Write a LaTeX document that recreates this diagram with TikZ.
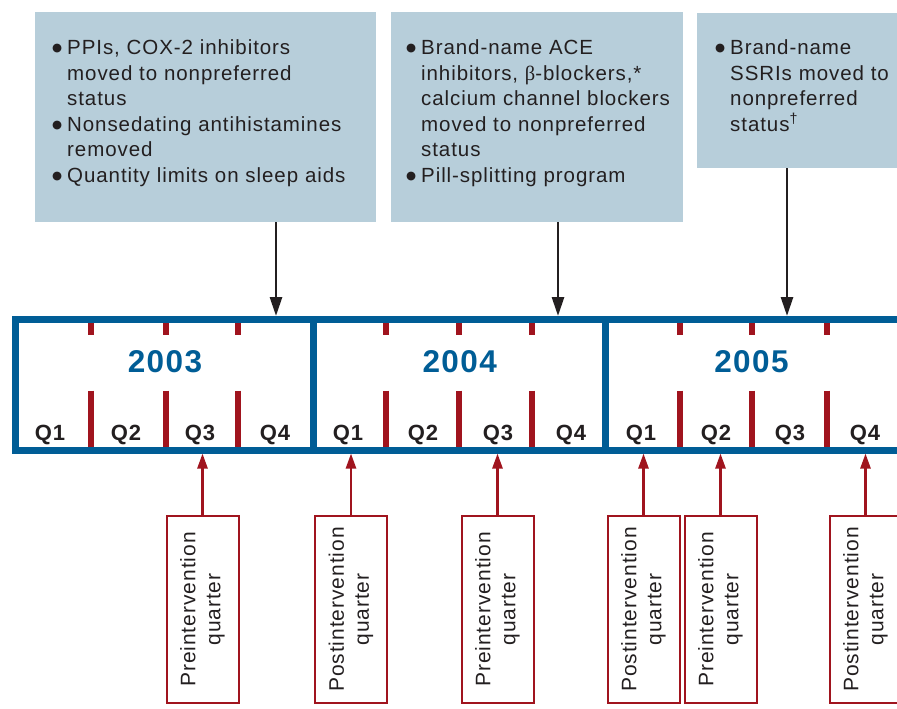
\documentclass[tikz,border=0pt]{standalone}
\usepackage{fontspec}
\setmainfont{Liberation Sans}[LetterSpace=4.5]
\newfontfamily\grkfont{Liberation Serif}
\newfontfamily\dotfont{DejaVu Sans}
\usetikzlibrary{arrows.meta,positioning}

\definecolor{tlblue}{RGB}{0,93,150}
\definecolor{boxblue}{RGB}{183,206,218}
\definecolor{qred}{RGB}{160,20,30}
\definecolor{inkgray}{RGB}{35,31,32}

\newcommand{\itm}[1]{\par\noindent\hangindent=16pt\hangafter=1\makebox[16pt][l]{\hspace{1pt}\raisebox{3pt}{\dotfont\fontsize{11.5}{12}\selectfont ●}}#1\par}

\tikzset{
  infobox/.style={fill=boxblue,inner sep=0pt,anchor=north west},
  listtext/.style={anchor=north west,inner sep=0pt,text width=400pt,align=left,text=inkgray,font=\fontsize{20.5}{25.5}\selectfont},
  yearlbl/.style={text=tlblue,inner sep=0pt,font=\fontsize{31.5}{36}\selectfont\bfseries},
  qlbl/.style={text=inkgray,inner sep=0pt,anchor=base,font=\fontsize{22}{24}\selectfont\bfseries},
  qbox/.style={draw=qred,line width=2pt,rotate=90,minimum width=187pt,minimum height=72pt,inner sep=0pt,align=center,text=inkgray,font=\fontsize{21}{25}\selectfont},
  blkarrow/.style={draw=inkgray,line width=2.8pt,-{Triangle[length=19pt,width=12pt]}},
  redarrow/.style={draw=qred,line width=2.5pt,-{Triangle[length=15pt,width=10pt]}},
}

\begin{document}
\begin{tikzpicture}[x=1pt,y=1pt]
\useasboundingbox (0,0) rectangle (897,-709);
\clip (0,0) rectangle (897,-709);

% formulary changes
\node[infobox,minimum width=341pt,minimum height=210pt] (box1) at (35,-12) {};
\node[infobox,minimum width=292pt,minimum height=210pt] (box2) at (391,-12) {};
\node[infobox,minimum width=220pt,minimum height=155pt] (box3) at (697,-13) {};

\node[listtext] (txt1) at (51,-29) {\itm{PPIs, COX-2 inhibitors\newline moved to nonpreferred\newline status}\itm{Nonsedating antihistamines\newline removed}\itm{Quantity limits on sleep aids}};
\node[listtext] (txt2) at (405,-29) {\itm{Brand-name ACE\newline inhibitors, {\grkfont β}-blockers,*\newline calcium channel blockers\newline moved to nonpreferred\newline status}\itm{Pill-splitting program}};
\node[listtext] (txt3) at (714,-29) {\itm{Brand-name\newline SSRIs moved to\newline nonpreferred\newline status\textsuperscript{†}}};

% timeline
\coordinate (tltop) at (0,-316);
\coordinate (tlbot) at (0,-453.5);
\foreach \x in {91,166,238,385.7,459.3,532.3,680,752,827}{
  \draw[qred,line width=6pt] (\x,-322) -- (\x,-334.5);
  \draw[qred,line width=6pt] (\x,-390.7) -- (\x,-447);
}
\draw[tlblue,line width=7pt] (910,-319.5) -- (15.7,-319.5) -- (15.7,-450) -- (910,-450);
\draw[tlblue,line width=7pt] (313.2,-319.5) -- (313.2,-450);
\draw[tlblue,line width=7pt] (605,-319.5) -- (605,-450);

\node[yearlbl] (y2003) at (165,-361.5) {2003};
\node[yearlbl] (y2004) at (459.7,-361.5) {2004};
\node[yearlbl] (y2005) at (751.5,-361.5) {2005};

\node[qlbl] (q1a) at (50,-440) {Q1};
\node[qlbl] (q2a) [right of=q1a,node distance=76pt] {Q2};
\node[qlbl] (q3a) [right of=q2a,node distance=74pt] {Q3};
\node[qlbl] (q4a) [right of=q3a,node distance=75pt] {Q4};
\node[qlbl] (q1b) at (348,-440) {Q1};
\node[qlbl] (q2b) [right of=q1b,node distance=75pt] {Q2};
\node[qlbl] (q3b) [right of=q2b,node distance=75pt] {Q3};
\node[qlbl] (q4b) [right of=q3b,node distance=73pt] {Q4};
\node[qlbl] (q1c) at (641,-440) {Q1};
\node[qlbl] (q2c) [right of=q1c,node distance=75pt] {Q2};
\node[qlbl] (q3c) [right of=q2c,node distance=74pt] {Q3};
\node[qlbl] (q4c) [right of=q3c,node distance=75pt] {Q4};

% change arrows
\coordinate (c1) at (276,-316);
\coordinate (c2) at (558,-316);
\coordinate (c3) at (787,-316);
\draw[blkarrow] (box1.south -| c1) -- (c1);
\draw[blkarrow] (box2.south -| c2) -- (c2);
\draw[blkarrow] (box3.south -| c3) -- (c3);

% pre/post quarters
\node[qbox] (pre1) at (202.5,-609.5) {Preintervention\\quarter};
\node[qbox] (post1) at (351,-609.5) {Postintervention\\quarter};
\node[qbox] (pre2) at (497.5,-609.5) {Preintervention\\quarter};
\node[qbox] (post2) at (643.5,-609.5) {Postintervention\\quarter};
\node[qbox] (pre3) at (720.5,-609.5) {Preintervention\\quarter};
\node[qbox] (post3) at (865.5,-609.5) {Postintervention\\quarter};

\foreach \b in {pre1,post1,pre2,post2,pre3,post3}
  \draw[redarrow] (\b.east) -- (\b.east |- tlbot);
\end{tikzpicture}
\end{document}
